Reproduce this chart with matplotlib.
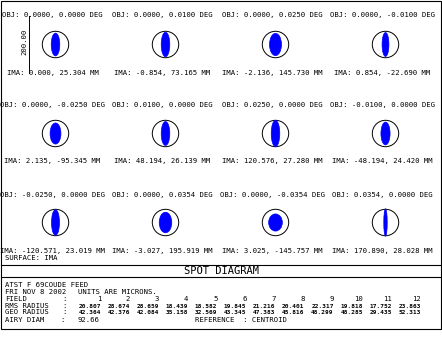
import matplotlib
matplotlib.use("Agg")
import matplotlib.pyplot as plt
from matplotlib.patches import Ellipse, Circle, Rectangle

# field definitions (object angle, deg) and chief ray image positions (mm)
obj_x = [0.0, 0.0, 0.0, 0.0, 0.0, 0.01, 0.025, -0.01, -0.025, 0.0, 0.0, 0.0354]
obj_y = [0.0, 0.01, 0.025, -0.01, -0.025, 0.0, 0.0, 0.0, 0.0, 0.0354, -0.0354, 0.0]
ima_x = [0.000, -0.854, -2.136, 0.854, 2.135, 48.194, 120.576, -48.194,
         -120.571, -3.027, 3.025, 170.890]
ima_y = [25.304, 73.165, 145.730, -22.690, -95.345, 26.139, 27.280, 24.420,
         23.019, 195.919, -145.757, 28.028]

# spot extents in microns (half width, half height)
spot_hw = [15, 15, 21, 12, 19, 15, 15, 16, 14, 22, 24, 6]
spot_hh = [40, 43, 39, 42, 37, 42, 46, 40, 45, 36, 30, 48]

rms_radius = [20.807, 28.674, 28.659, 18.439, 18.582, 19.845, 21.216, 20.401,
              22.317, 19.818, 17.752, 23.863]
geo_radius = [42.364, 42.376, 42.084, 35.158, 32.569, 43.345, 47.383, 45.816,
              48.299, 48.285, 29.435, 52.313]
airy_diam = 92.66
scale_bar = 200.0

px_per_um = 0.285
mono = "DejaVu Sans Mono"
fs = 5.2

fig = plt.figure(figsize=(4.42, 3.42), dpi=100)
ax = fig.add_axes([0, 0, 1, 1])
ax.set_xlim(0, 442)
ax.set_ylim(342, 0)
ax.axis("off")

for i in range(12):
    row, col = divmod(i, 4)
    cx = 55.5 + 110 * col
    cy = 44.5 + 89 * row
    ax.add_patch(Circle((cx, cy), airy_diam / 2 * px_per_um, fill=False,
                        ec="black", lw=0.7))
    ax.add_patch(Ellipse((cx, cy), 2 * spot_hw[i] * px_per_um,
                         2 * spot_hh[i] * px_per_um, fc="#0000ff",
                         ec="#0000ff", lw=0.5))
    ax.text(cx - 3, 15 + 90 * row,
            f"OBJ: {obj_x[i]:.4f}, {obj_y[i]:.4f} DEG",
            family=mono, fontsize=fs, ha="center", va="center")
    ax.text(cx - 3, 72.5 + 89 * row,
            f"IMA: {ima_x[i]:.3f}, {ima_y[i]:.3f} MM",
            family=mono, fontsize=fs, ha="center", va="center")

# scale bar
bar = scale_bar * px_per_um
ax.plot([29, 29], [44.5 - bar / 2, 44.5 + bar / 2], color="black", lw=0.7)
ax.text(24.5, 42, f"{scale_bar:.2f}", family=mono, fontsize=fs,
        rotation=90, ha="center", va="center")

ax.text(5, 258, "SURFACE: IMA", family=mono, fontsize=fs, va="center")

# frame and title box
ax.add_patch(Rectangle((0.5, 0.5), 440.5, 328.5, fill=False, ec="black", lw=0.8))
ax.plot([0.5, 441], [264.5, 264.5], color="black", lw=0.8)
ax.plot([0.5, 441], [277, 277], color="black", lw=0.8)
ax.text(221, 271, "SPOT DIAGRAM", family=mono, fontsize=7.5,
        ha="center", va="center")

ax.text(5, 285, "ATST F 69COUDE FEED", family=mono, fontsize=fs, va="center")
ax.text(5, 292, "FRI NOV 8 2002", family=mono, fontsize=fs, va="center")
ax.text(78, 292, "UNITS ARE MICRONS.", family=mono, fontsize=fs, va="center")
ax.text(5, 299, "FIELD", family=mono, fontsize=fs, va="center")
ax.text(5, 306, "RMS RADIUS", family=mono, fontsize=fs, va="center")
ax.text(5, 312.5, "GEO RADIUS", family=mono, fontsize=fs, va="center")
for yy in (299, 306, 312.5):
    ax.text(62, yy, ":", family=mono, fontsize=fs, va="center")
ax.text(5, 319.5, "AIRY DIAM", family=mono, fontsize=fs, va="center")
ax.text(60, 319.5, ":", family=mono, fontsize=fs, va="center")
ax.text(77, 319.5, f"{airy_diam:.2f}", family=mono, fontsize=fs, va="center")
ax.text(195, 319.5, "REFERENCE  : CENTROID", family=mono, fontsize=fs,
        va="center")

for i in range(12):
    xr = 101 + 29.09 * i
    ax.text(xr, 299, str(i + 1), family=mono, fontsize=fs, ha="right",
            va="center")
    ax.text(xr, 306, f"{rms_radius[i]:.3f}", family=mono, fontsize=4.4,
            weight="bold", ha="right", va="center")
    ax.text(xr, 312.5, f"{geo_radius[i]:.3f}", family=mono, fontsize=4.4,
            weight="bold", ha="right", va="center")

fig.savefig("out.png", dpi=100)
